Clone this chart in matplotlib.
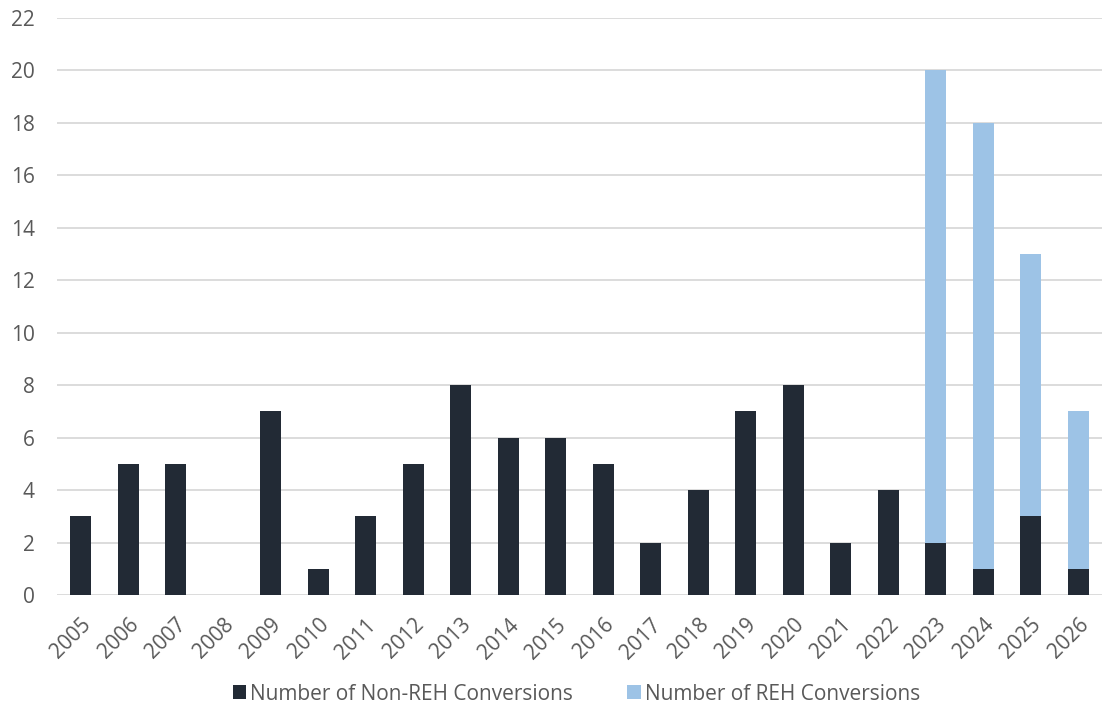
import matplotlib
matplotlib.use("Agg")
import matplotlib.pyplot as plt
import numpy as np

plt.rcParams['font.family'] = ['Open Sans', 'DejaVu Sans']

years = [str(y) for y in range(2005, 2027)]
non_reh = [3, 5, 5, 0, 7, 1, 3, 5, 8, 6, 6, 5, 2, 4, 7, 8, 2, 4, 2, 1, 3, 1]
reh = [0, 0, 0, 0, 0, 0, 0, 0, 0, 0, 0, 0, 0, 0, 0, 0, 0, 0, 18, 17, 10, 6]

dark = '#222a35'
light = '#9dc3e6'
text_col = '#595959'

fig = plt.figure(figsize=(11.02, 7.14), dpi=100)
ax = fig.add_axes([57 / 1102, 1 - 595 / 714, 1045 / 1102, 577 / 714])

x = np.arange(len(years))
ax.bar(x, non_reh, width=0.44, color=dark, label='Number of Non-REH Conversions', zorder=3)
ax.bar(x, reh, width=0.44, bottom=non_reh, color=light,
       label='Number of REH Conversions', zorder=3)

ax.set_xlim(-0.5, len(years) - 0.5)
ax.set_ylim(0, 22)
ax.set_yticks(range(0, 23, 2))
ax.yaxis.grid(True, color='#d9d9d9', linewidth=1.3, zorder=0)
ax.set_axisbelow(True)

ax.set_xticks(x)
ax.set_xticklabels(years, rotation=45, ha='right', rotation_mode='anchor')
ax.tick_params(axis='both', length=0, labelsize=15, colors=text_col)
ax.tick_params(axis='y', pad=16)
ax.tick_params(axis='x', pad=14)

for s in ax.spines.values():
    s.set_visible(False)

ax.legend(loc='center', bbox_to_anchor=(0.497, -0.172), ncol=2, frameon=False,
          fontsize=15, labelcolor=text_col, handlelength=0.65, handleheight=0.65,
          handletextpad=0.2, columnspacing=2.6)

fig.savefig('out.png', dpi=100)
